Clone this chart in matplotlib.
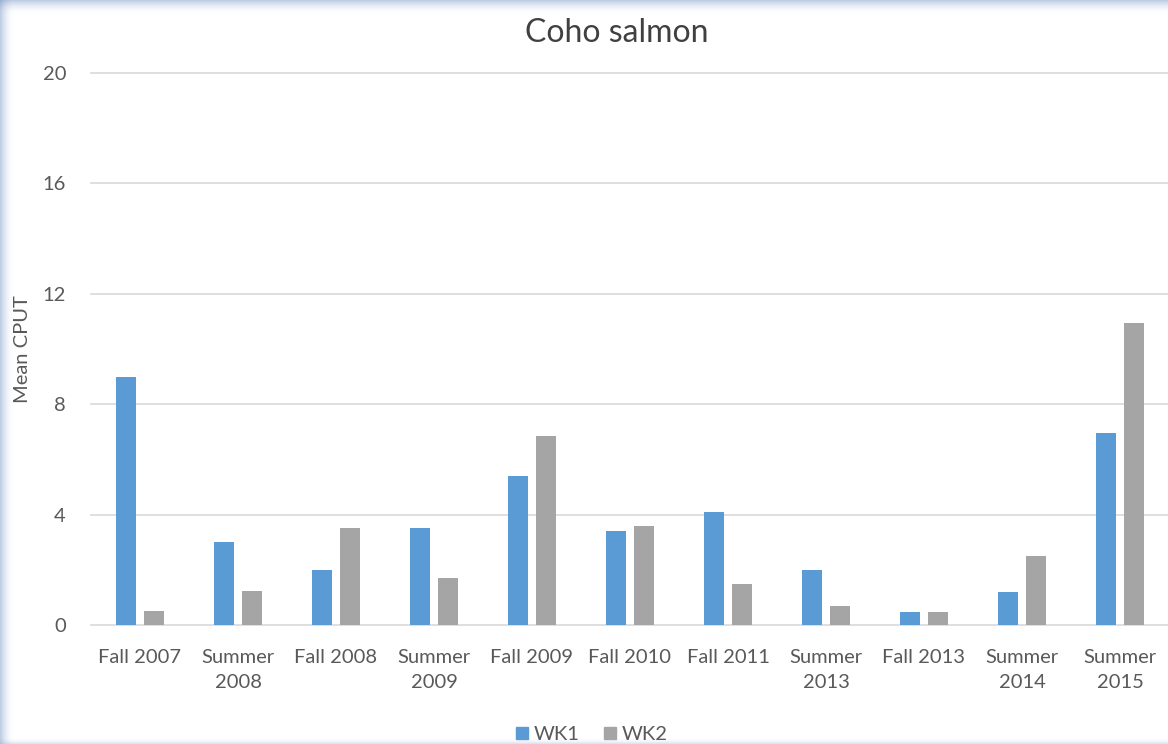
import numpy as np
import matplotlib
matplotlib.use("Agg")
import matplotlib.pyplot as plt
from matplotlib.patches import Rectangle
from matplotlib.lines import Line2D

plt.rcParams['font.family'] = ['Lato', 'DejaVu Sans']

categories = ["Fall 2007", "Summer\n2008", "Fall 2008", "Summer\n2009", "Fall 2009",
              "Fall 2010", "Fall 2011", "Summer\n2013", "Fall 2013", "Summer\n2014",
              "Summer\n2015"]
wk1 = [9.0, 3.0, 2.0, 3.5, 5.4, 3.4, 4.1, 2.0, 0.47, 1.2, 6.95]
wk2 = [0.5, 1.25, 3.5, 1.7, 6.85, 3.6, 1.5, 0.7, 0.47, 2.5, 10.95]
yticks = [0, 4, 8, 12, 16, 20]

blue = "#5b9bd5"
grey = "#a5a5a5"
text_col = "#595959"

W, H = 1168, 744
fig = plt.figure(figsize=(W / 100, H / 100), dpi=100)
ax = fig.add_axes([91 / W, (H - 625) / H, 1078 / W, 552 / H])

x = np.arange(len(categories))
bw = 0.21
ax.bar(x - 0.143, wk1, bw, color=blue, label="WK1", zorder=3)
ax.bar(x + 0.143, wk2, bw, color=grey, label="WK2", zorder=3)

ax.set_xlim(-0.5, len(categories) - 0.5)
ax.set_ylim(0, 20)
ax.set_yticks(yticks)
ax.set_xticks(x)
ax.set_xticklabels(categories, linespacing=1.6)
ax.tick_params(axis="x", length=0, pad=17, labelsize=14.5, labelcolor=text_col)
ax.tick_params(axis="y", length=0, pad=18, labelsize=14.5, labelcolor=text_col)
ax.grid(axis="y", color="#d9d9d9", linewidth=1.2, zorder=0)
for s in ax.spines.values():
    s.set_visible(False)
for gl in ax.get_ygridlines():
    gl.set_clip_on(False)

ax.set_ylabel("Mean CPUT", fontsize=14.5, color=text_col, labelpad=8)
fig.text(0.528, (H - 33) / H, "Coho salmon", ha="center", va="center",
         fontsize=23, color="#404040")

handles = [Line2D([], [], marker="s", linestyle="", markersize=8, color=blue),
           Line2D([], [], marker="s", linestyle="", markersize=8, color=grey)]
fig.legend(handles, ["WK1", "WK2"], loc="center", bbox_to_anchor=(0.505, (H - 734) / H),
           ncol=2, frameon=False, fontsize=14.5, labelcolor=text_col,
           handletextpad=0.1, columnspacing=1.0, handlelength=1.0)

# bluish frame around the picture
for i in range(14):
    a = 0.45 * (1 - i / 14) ** 2
    fig.patches.append(Rectangle((0, (H - 1 - i) / H), 1, 1 / H, transform=fig.transFigure,
                                 color="#6f8fc4", alpha=a, lw=0, zorder=10))
    fig.patches.append(Rectangle((i / W, 0), 1 / W, 1, transform=fig.transFigure,
                                 color="#6f8fc4", alpha=a, lw=0, zorder=10))
for i in range(6):
    a = 0.3 * (1 - i / 6) ** 2
    fig.patches.append(Rectangle((0, i / H), 1, 1 / H, transform=fig.transFigure,
                                 color="#8fa8d0", alpha=a, lw=0, zorder=10))

fig.savefig("out.png", dpi=100)
